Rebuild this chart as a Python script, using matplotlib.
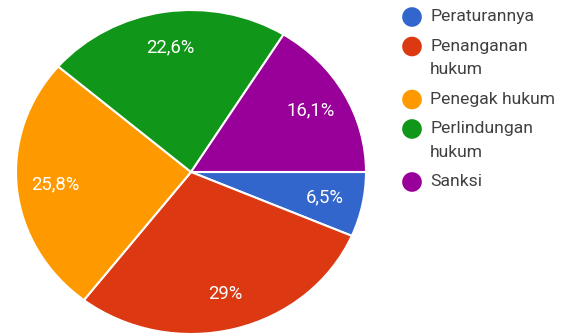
import matplotlib
matplotlib.use("Agg")
import matplotlib.pyplot as plt

categories = ["Peraturannya", "Penanganan\nhukum", "Penegak hukum", "Perlindungan\nhukum", "Sanksi"]
counts = [2, 9, 8, 7, 5]
colors = ["#3366cc", "#dc3912", "#ff9900", "#109618", "#990099"]

plt.rcParams['font.family'] = ['Roboto', 'DejaVu Sans']

W, H = 579, 336
fig = plt.figure(figsize=(W / 100, H / 100), dpi=100)

# pie axes (slightly stretched horizontally like the reference)
cx, cy, rx, ry = 191, 172, 175, 162
ax = fig.add_axes([(cx - rx) / W, (H - (cy + ry)) / H, 2 * rx / W, 2 * ry / H])


def fmt(p):
    s = f"{p:.1f}".replace(".", ",")
    if s.endswith(",0"):
        s = s[:-2]
    return s + "%"


wedges, texts, autotexts = ax.pie(
    counts, colors=colors, startangle=0, counterclock=False,
    autopct=fmt, pctdistance=0.78,
    wedgeprops=dict(edgecolor="white", linewidth=1.5),
    textprops=dict(color="white", fontsize=13.3),
)
ax.set_aspect("auto")
ax.set_xlim(-1, 1)
ax.set_ylim(-1, 1)
ax.axis("off")

# legend drawn manually in pixel coordinates
lax = fig.add_axes([0, 0, 1, 1])
lax.set_xlim(0, W)
lax.set_ylim(H, 0)
lax.axis("off")
y = 17
for lab, col in zip(categories, colors):
    lax.scatter([412], [y], s=200, color=col, edgecolors="none")
    lines = lab.split("\n")
    for i, ln in enumerate(lines):
        lax.text(430, y + i * 23.5, ln, fontsize=12.6, color="#404040",
                 va="center", ha="left")
    y += 23.5 * (len(lines) - 1) + 29.5

fig.savefig("out.png", dpi=100, facecolor="white")
